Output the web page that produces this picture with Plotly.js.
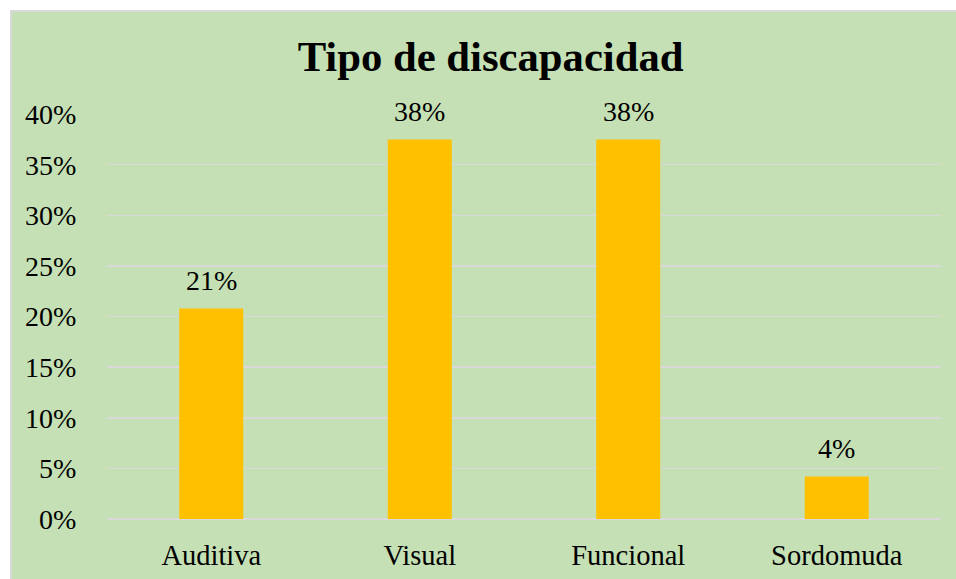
<!DOCTYPE html>
<html>
<head>
<meta charset="utf-8">
<script src="https://cdn.plot.ly/plotly-3.0.1.min.js"></script>
<style>
  html, body { margin: 0; padding: 0; background: #ffffff; width: 956px; height: 579px; overflow: hidden; }
  #frame { position: absolute; left: 10px; top: 10px; width: 946px; height: 569px;
           border-left: 2px solid #D9D9D9; border-top: 2px solid #D9D9D9; box-sizing: border-box; background: #C5E0B4; }
  #chart { position: absolute; left: 0; top: 0; width: 944px; height: 567px; }
</style>
</head>
<body>
<div id="frame"><div id="chart"></div></div>
<script>
const categories = ["Auditiva", "Visual", "Funcional", "Sordomuda"];
const values = [0.208, 0.375, 0.375, 0.042];
const yTicks = [0, 0.05, 0.10, 0.15, 0.20, 0.25, 0.30, 0.35, 0.40];
const titleText = "Tipo de discapacidad";

const serif = "Liberation Serif";

const trace = {
  type: "bar",
  x: categories,
  y: values,
  marker: { color: "#FFC000" },
  hoverinfo: "none"
};

const labelAnnotations = categories.map((c, i) => ({
  x: c,
  y: values[i],
  xref: "x",
  yref: "y",
  text: Math.round(values[i] * 100) + "%",
  showarrow: false,
  xanchor: "center",
  yanchor: "bottom",
  yshift: 10,
  font: { family: serif, size: 28, color: "#000000" }
}));

const layout = {
  width: 944,
  height: 567,
  margin: { l: 95, r: 15, t: 102, b: 60 },
  paper_bgcolor: "#C5E0B4",
  plot_bgcolor: "#C5E0B4",
  bargap: 0.693,
  showlegend: false,
  font: { family: serif },
  annotations: labelAnnotations,
  title: {
    text: "<b>" + titleText + "</b>",
    font: { family: serif, size: 42.7, color: "#000000" },
    x: 0.507, xanchor: "center", xref: "container",
    y: 0.948, yanchor: "top", yref: "container"
  },
  xaxis: {
    type: "category",
    showgrid: false,
    showline: false,
    zeroline: false,
    ticks: "outside",
    ticklen: 11,
    tickcolor: "rgba(0,0,0,0)",
    tickfont: { family: serif, size: 28.5, color: "#000000" }
  },
  yaxis: {
    range: [0, 0.4001],
    tickvals: yTicks,
    tickformat: ".0%",
    showgrid: true,
    gridcolor: "#D9D9D9",
    gridwidth: 1.5,
    zeroline: true,
    zerolinecolor: "#D9D9D9",
    zerolinewidth: 1.5,
    showline: false,
    ticks: "outside",
    ticklen: 24,
    tickcolor: "rgba(0,0,0,0)",
    tickfont: { family: serif, size: 28, color: "#000000" }
  }
};

Plotly.newPlot("chart", [trace], layout, { displayModeBar: false, staticPlot: true });
</script>
</body>
</html>
